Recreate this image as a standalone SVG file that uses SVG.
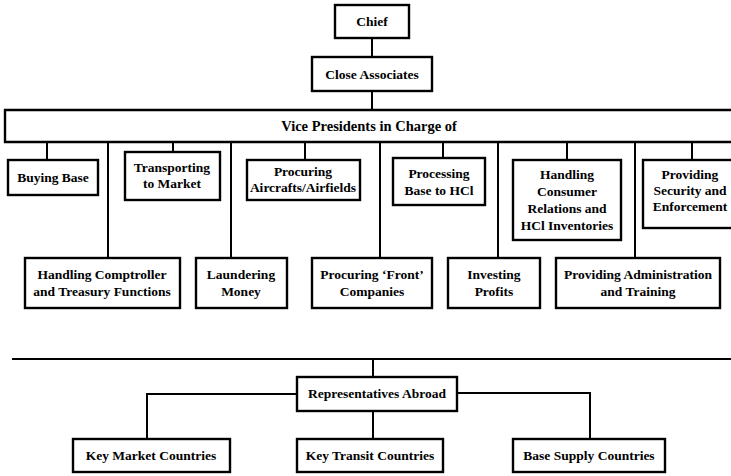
<svg xmlns="http://www.w3.org/2000/svg" width="731" height="476" viewBox="0 0 731 476">
<style>
.b{fill:#fff;stroke:#000;stroke-width:2.4}
.t{font-family:"Liberation Serif",serif;font-weight:bold;font-size:13.5px;fill:#000;text-anchor:middle}
.c{fill:none;stroke:#000;stroke-width:2}
</style>
<rect width="731" height="476" fill="#fff"/>
<g id="connectors">
<path class="c" d="M372 38V57M372 91V110"/>
<path class="c" d="M47 142V160M173 142V152M305 142V160M443 142V158M567 142V160M692 142V160"/>
<path class="c" d="M108 142V258M231 142V258M380 142V258M498 142V258M635 142V258"/>
<path class="c" d="M12 359H731M373 359V377M297 394H147V439M373 411V439M457 393H590V439"/>
</g>
<g id="chief"><rect class="b" x="335" y="5" width="74" height="33"/><text class="t" x="372" y="26">Chief</text></g>
<g id="close"><rect class="b" x="312" y="57" width="120" height="34"/><text class="t" x="372" y="79">Close Associates</text></g>
<g id="vp"><path class="b" d="M740 110H5V142H740"/><text class="t" x="369" y="131" style="font-size:14.5px">Vice Presidents in Charge of</text></g>
<g id="buying"><rect class="b" x="8" y="160" width="90" height="35"/><text class="t" x="53" y="182">Buying Base</text></g>
<g id="transporting"><rect class="b" x="125" y="152" width="95" height="48"/><text class="t" x="172" y="172">Transporting</text><text class="t" x="172" y="188">to Market</text></g>
<g id="aircraft"><rect class="b" x="247" y="160" width="113" height="40"/><text class="t" x="303" y="176">Procuring</text><text class="t" x="303" y="192">Aircrafts/Airfields</text></g>
<g id="processing"><rect class="b" x="393" y="158" width="92" height="47"/><text class="t" x="439" y="178">Processing</text><text class="t" x="439" y="195">Base to HCl</text></g>
<g id="consumer"><rect class="b" x="513" y="160" width="108" height="80"/><text class="t" x="567" y="179">Handling</text><text class="t" x="567" y="196">Consumer</text><text class="t" x="567" y="213">Relations and</text><text class="t" x="567" y="230">HCl Inventories</text></g>
<g id="security"><rect class="b" x="643" y="160" width="95" height="68"/><text class="t" x="690" y="179">Providing</text><text class="t" x="690" y="195">Security and</text><text class="t" x="690" y="211">Enforcement</text></g>
<g id="comptroller"><rect class="b" x="25" y="258" width="155" height="50"/><text class="t" x="102" y="279">Handling Comptroller</text><text class="t" x="102" y="296">and Treasury Functions</text></g>
<g id="laundering"><rect class="b" x="196" y="258" width="91" height="50"/><text class="t" x="241" y="279">Laundering</text><text class="t" x="241" y="296">Money</text></g>
<g id="front"><rect class="b" x="312" y="258" width="120" height="50"/><text class="t" x="372" y="279">Procuring ‘Front’</text><text class="t" x="372" y="296">Companies</text></g>
<g id="investing"><rect class="b" x="448" y="258" width="92" height="50"/><text class="t" x="494" y="279">Investing</text><text class="t" x="494" y="296">Profits</text></g>
<g id="admin"><rect class="b" x="556" y="258" width="164" height="50"/><text class="t" x="638" y="279">Providing Administration</text><text class="t" x="638" y="296">and Training</text></g>
<g id="reps"><rect class="b" x="297" y="377" width="160" height="34"/><text class="t" x="377" y="398">Representatives Abroad</text></g>
<g id="market"><rect class="b" x="73" y="439" width="157" height="33"/><text class="t" x="151" y="460">Key Market Countries</text></g>
<g id="transit"><rect class="b" x="297" y="439" width="146" height="33"/><text class="t" x="370" y="460">Key Transit Countries</text></g>
<g id="supply"><rect class="b" x="513" y="439" width="152" height="33"/><text class="t" x="589" y="460">Base Supply Countries</text></g>
</svg>
